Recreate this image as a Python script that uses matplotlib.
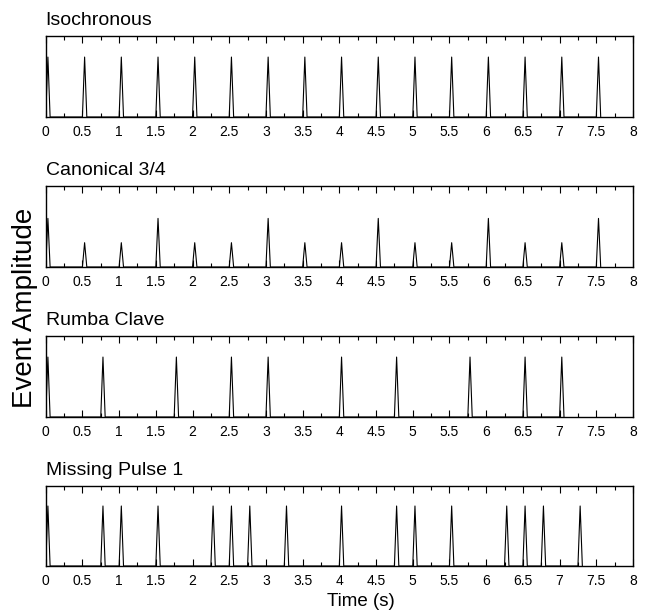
import matplotlib
matplotlib.use("Agg")
import matplotlib.pyplot as plt
from matplotlib.ticker import MultipleLocator

plt.rcParams['font.family'] = ['Liberation Sans', 'DejaVu Sans']

# event onsets (s) and amplitudes for each rhythm
titles = ["Isochronous", "Canonical 3/4", "Rumba Clave", "Missing Pulse 1"]

iso_times = [0, 0.5, 1, 1.5, 2, 2.5, 3, 3.5, 4, 4.5, 5, 5.5, 6, 6.5, 7, 7.5]
iso_amps = [0.74] * 16

can_times = [0, 0.5, 1, 1.5, 2, 2.5, 3, 3.5, 4, 4.5, 5, 5.5, 6, 6.5, 7, 7.5]
can_amps = [0.6, 0.3, 0.3, 0.6, 0.3, 0.3, 0.6, 0.3, 0.3, 0.6, 0.3, 0.3, 0.6, 0.3, 0.3, 0.6]

rumba_times = [0, 0.75, 1.75, 2.5, 3, 4, 4.75, 5.75, 6.5, 7]
rumba_amps = [0.74] * 10

miss_times = [0, 0.75, 1, 1.5, 2.25, 2.5, 2.75, 3.25, 4, 4.75, 5, 5.5, 6.25, 6.5, 6.75, 7.25]
miss_amps = [0.75] * 16

xticks = [0, 0.5, 1, 1.5, 2, 2.5, 3, 3.5, 4, 4.5, 5, 5.5, 6, 6.5, 7, 7.5, 8]
xticklabels = ["0", "0.5", "1", "1.5", "2", "2.5", "3", "3.5", "4", "4.5",
               "5", "5.5", "6", "6.5", "7", "7.5", "8"]

series = [(iso_times, iso_amps), (can_times, can_amps),
          (rumba_times, rumba_amps), (miss_times, miss_amps)]

fig = plt.figure(figsize=(6.48, 6.15), dpi=100)

left = 45.7 / 648
width = 587.3 / 648
tops = [36, 186, 336, 486]
bots = [117, 267, 417, 566]

w = 0.06  # pulse width (s)
for k in range(4):
    ax = fig.add_axes([left, 1 - bots[k] / 615, width, (bots[k] - tops[k]) / 615])
    times, amps = series[k]
    xs, ys = [], []
    for t, a in zip(times, amps):
        xs += [t, t + w / 2, t + w]
        ys += [0, a, 0]
    ax.plot(xs, ys, color='black', lw=0.8)
    ax.set_xlim(0, 8)
    ax.set_ylim(0, 1)
    ax.set_xticks(xticks)
    ax.set_xticklabels(xticklabels, fontsize=10)
    ax.xaxis.set_minor_locator(MultipleLocator(0.25))
    ax.set_yticks([])
    ax.tick_params(axis='x', which='major', direction='in', top=True, length=5, width=0.8, pad=6)
    ax.tick_params(axis='x', which='minor', direction='in', top=True, length=3, width=0.8)
    for s in ax.spines.values():
        s.set_linewidth(1.0)
    ax.set_title(titles[k], loc='left', fontsize=14, pad=8)

fig.text(25 / 648, 0.5, "Event Amplitude", rotation=90, fontsize=20,
         ha='center', va='center')
fig.text(361 / 648, 1 - 602 / 615, "Time (s)", fontsize=13.5, ha='center', va='center')

fig.savefig("out.png", dpi=100)
